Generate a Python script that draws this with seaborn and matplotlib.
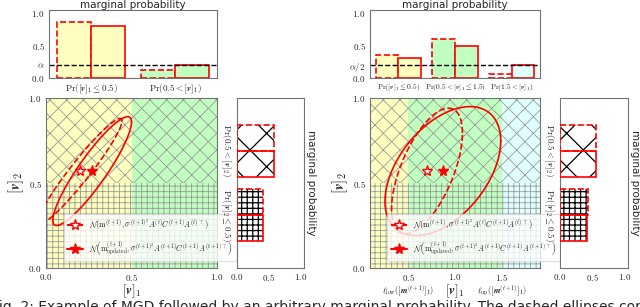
import numpy as np
import pandas as pd
import matplotlib
matplotlib.use("Agg")
import matplotlib.pyplot as plt
import seaborn as sns
from matplotlib.lines import Line2D
from matplotlib.patches import Rectangle

sns.set_style("white")
plt.rcParams["font.family"] = ["DejaVu Sans"]
plt.rcParams["mathtext.fontset"] = "cm"
plt.rcParams["hatch.linewidth"] = 0.6


# ---- data ----
v1 = r"[\boldsymbol{v}]_1"
v2 = r"[\boldsymbol{v}]_2"

left_cats = [rf"$\Pr({v1} \leq 0.5)$", rf"$\Pr(0.5 < {v1})$"]
left_before = [0.87, 0.13]
left_after = [0.80, 0.20]
left_colors = ["#ffffc0", "#c0ffc0"]

right_cats = [rf"$\Pr({v1} \leq 0.5)$", rf"$\Pr(0.5 < {v1} \leq 1.5)$", rf"$\Pr(1.5 < {v1})$"]
right_before = [0.36, 0.60, 0.06]
right_after = [0.31, 0.50, 0.20]
right_colors = ["#ffffc0", "#c0ffc0", "#e0ffff"]

alpha_level = 0.2

side_cats = [rf"$\Pr(0.5 < {v2})$", rf"$\Pr({v2} \leq 0.5)$"]
left_side_before = [0.585, 0.415]
left_side_after = [0.585, 0.415]
right_side_before = [0.56, 0.43]
right_side_after = [0.55, 0.42]
side_hatches = ["x", "+++"]

# band edges along [v]_1
left_edges = [0.0, 0.5, 1.0]
right_edges = [0.09, 0.5, 1.5, 1.91]

# search distributions: centers and covariances (before / after update)
left_center_before = [0.20, 0.57]
left_center_after = [0.27, 0.57]
left_cov_before = [[0.060, 0.0725], [0.0725, 0.0961]]
left_cov_after = [[0.053, 0.0665], [0.0665, 0.1024]]

right_center_before = [0.70, 0.57]
right_center_after = [0.87, 0.57]
right_cov_before = [[0.144, 0.085], [0.085, 0.137]]
right_cov_after = [[0.384, 0.11], [0.11, 0.144]]

legend_labels = [
    r"$\mathcal{N}\left(\mathrm{m}^{(t+1)}, \sigma^{(t+1)^2} A^{(t)} C^{(t+1)} {A^{(t)}}^{\top}\right)$",
    r"$\mathcal{N}\left(\mathrm{m}^{(t+1)}_{\mathrm{updated}}, \sigma^{(t+1)^2} A^{(t+1)} C^{(t+1)} {A^{(t+1)}}^{\top}\right)$",
]


fig = plt.figure(figsize=(6.4, 3.07), dpi=100)
W, H = 640, 307


def add_ax(x0, x1, y0, y1):
    return fig.add_axes([x0 / W, 1 - y1 / H, (x1 - x0) / W, (y1 - y0) / H])


def style(ax):
    for s in ax.spines.values():
        s.set_color("0.45")
        s.set_linewidth(0.8)
    ax.tick_params(length=2, width=0.6, color="0.45", labelsize=6.5, pad=1.2)


def top_bars(ax, cats, before, after, colors, alpha_lbl, xfs):
    df = pd.DataFrame({
        "cat": cats * 2,
        "prob": before + after,
        "which": ["before"] * len(cats) + ["after"] * len(cats),
    })
    sns.barplot(data=df, x="cat", y="prob", hue="which", order=cats,
                hue_order=["before", "after"], width=0.8, gap=0,
                legend=False, ax=ax)
    for cont, ls in zip(ax.containers, ["--", "-"]):
        for bar, c in zip(cont, colors):
            bar.set_facecolor(c)
            bar.set_edgecolor("red")
            bar.set_linestyle(ls)
            bar.set_linewidth(1.2)
    ax.axhline(alpha_level, color="black", ls="--", lw=1)
    ax.set_ylim(0, 1.05)
    ax.set_xlim(-0.5, len(cats) - 0.5)
    ax.set_yticks([0, alpha_level, 0.5, 1.0])
    ax.set_yticklabels(["$0.0$", alpha_lbl, "$0.5$", "$1.0$"])
    ax.set_xlabel("")
    ax.set_ylabel("")
    ax.set_title("marginal probability", fontsize=7.5, pad=1.5)
    style(ax)
    ax.tick_params(axis="x", labelsize=xfs)


def side_bars(ax, before, after):
    df = pd.DataFrame({
        "cat": side_cats * 2,
        "prob": before + after,
        "which": ["before"] * 2 + ["after"] * 2,
    })
    sns.barplot(data=df, y="cat", x="prob", hue="which", order=side_cats,
                hue_order=["before", "after"], orient="h", width=0.8, gap=0,
                legend=False, ax=ax)
    for cont, ls in zip(ax.containers, ["--", "-"]):
        for bar, h in zip(cont, side_hatches):
            bar.set_facecolor("white")
            bar.set_edgecolor("black")
            bar.set_hatch(h)
            bar.set_linewidth(0)
            if hasattr(bar, "set_hatch_linewidth"):
                bar.set_hatch_linewidth(0.9)
            ax.add_patch(Rectangle(bar.get_xy(), bar.get_width(), bar.get_height(),
                                   fill=False, ec="red", ls=ls, lw=1.2, zorder=3))
    ax.set_xlim(0, 1.05)
    ax.set_ylim(1.815, -0.815)
    ax.set_xticks([0, 0.5, 1.0])
    ax.set_xticklabels(["$0.0$", "$0.5$", "$1.0$"])
    ax.set_yticks([0, 1])
    ax.set_yticklabels(side_cats, rotation=270, va="center", fontsize=6)
    ax.set_xlabel("")
    ax.yaxis.set_label_position("right")
    ax.set_ylabel("marginal probability", rotation=270, fontsize=7.5, labelpad=9)
    style(ax)
    ax.tick_params(axis="y", length=0, pad=3)


def ellipse(ax, center, cov, ls):
    t = np.linspace(0, 2 * np.pi, 300)
    L = np.linalg.cholesky(np.array(cov))
    pts = np.array(center)[:, None] + L @ np.vstack([np.cos(t), np.sin(t)])
    ax.plot(pts[0], pts[1], color="red", ls=ls, lw=1.2, zorder=4)


def main_panel(ax, edges, colors, centers, covs):
    for a, b, c in zip(edges[:-1], edges[1:], colors):
        ax.axvspan(a, b, color=c, lw=0, zorder=0)
    ax.axhspan(0.5, 1.0, facecolor="none", edgecolor="0.6", hatch="xx", lw=0, zorder=1)
    ax.axhspan(0.0, 0.5, facecolor="none", edgecolor="0.6", hatch="+++", lw=0, zorder=1)
    for (cen, cov), ls in zip(zip(centers, covs), ["--", "-"]):
        ellipse(ax, cen, cov, ls)
    ax.plot(centers[0][0], centers[0][1], marker="*", ms=8, mfc="white", mec="red", ls="none", zorder=5)
    ax.plot(centers[1][0], centers[1][1], marker="*", ms=8, mfc="red", mec="red", ls="none", zorder=5)
    ax.set_xlim(edges[0], edges[-1])
    ax.set_ylim(0, 1)
    ax.set_yticks([0, 0.5, 1.0])
    ax.set_yticklabels(["$0.0$", "$0.5$", "$1.0$"])
    ax.set_xlabel(f"${v1}$", fontsize=9.5)
    ax.set_ylabel(f"${v2}$", fontsize=10.5, labelpad=2)
    handles = [
        Line2D([], [], color="red", ls="--", marker="*", ms=8, mfc="white", mec="red"),
        Line2D([], [], color="red", ls="-", marker="*", ms=8, mfc="red", mec="red"),
    ]
    ax.legend(handles, legend_labels, loc="lower left", bbox_to_anchor=(0.08, 0.02),
              fontsize=5.6, frameon=True, framealpha=0.8, handlelength=2.0,
              borderpad=0.5, labelspacing=0.9, edgecolor="0.85")
    style(ax)


# ---- left panel ----
ax_lt = add_ax(49, 217, 10, 78)
top_bars(ax_lt, left_cats, left_before, left_after, left_colors, r"$\alpha$", 6.5)

ax_lm = add_ax(46, 217, 98, 268)
main_panel(ax_lm, left_edges, left_colors,
           [left_center_before, left_center_after], [left_cov_before, left_cov_after])
ax_lm.set_xticks([0, 0.5, 1.0])
ax_lm.set_xticklabels(["$0.0$", "$0.5$", "$1.0$"])
ax_lm.xaxis.set_label_coords(0.5, -0.083)

ax_ls = add_ax(237, 304, 98, 268)
side_bars(ax_ls, left_side_before, left_side_after)

# ---- right panel ----
ax_rt = add_ax(370, 540, 10, 78)
top_bars(ax_rt, right_cats, right_before, right_after, right_colors, r"$\alpha/2$", 5.3)

ax_rm = add_ax(370, 540, 98, 268)
main_panel(ax_rm, right_edges, right_colors,
           [right_center_before, right_center_after], [right_cov_before, right_cov_after])
ax_rm.set_xticks([0.5, 1.0, 1.5])
ax_rm.set_xticklabels(["$0.5$", "$1.0$", "$1.5$"])
ax_rm.xaxis.set_label_coords(0.5, -0.083)
bound_labels = [r"$\ell_{\mathrm{low}}([\boldsymbol{m}^{(t+1)}]_1)$",
                r"$\ell_{\mathrm{up}}([\boldsymbol{m}^{(t+1)}]_1)$"]
for x, lbl in zip([0.5, 1.5], bound_labels):
    ax_rm.text(x, -0.09, lbl, transform=ax_rm.get_xaxis_transform(),
               ha="center", va="top", fontsize=6)

ax_rs = add_ax(560, 628, 98, 268)
side_bars(ax_rs, right_side_before, right_side_after)

# caption (cut off by the image border)
fig.text(-0.013, 1 - 300 / H,
         "Fig. 2: Example of MGD followed by an arbitrary marginal probability. "
         "The dashed ellipses correspond to the MGD before",
         fontsize=10, va="top", ha="left")

fig.savefig("out.png", dpi=100)
